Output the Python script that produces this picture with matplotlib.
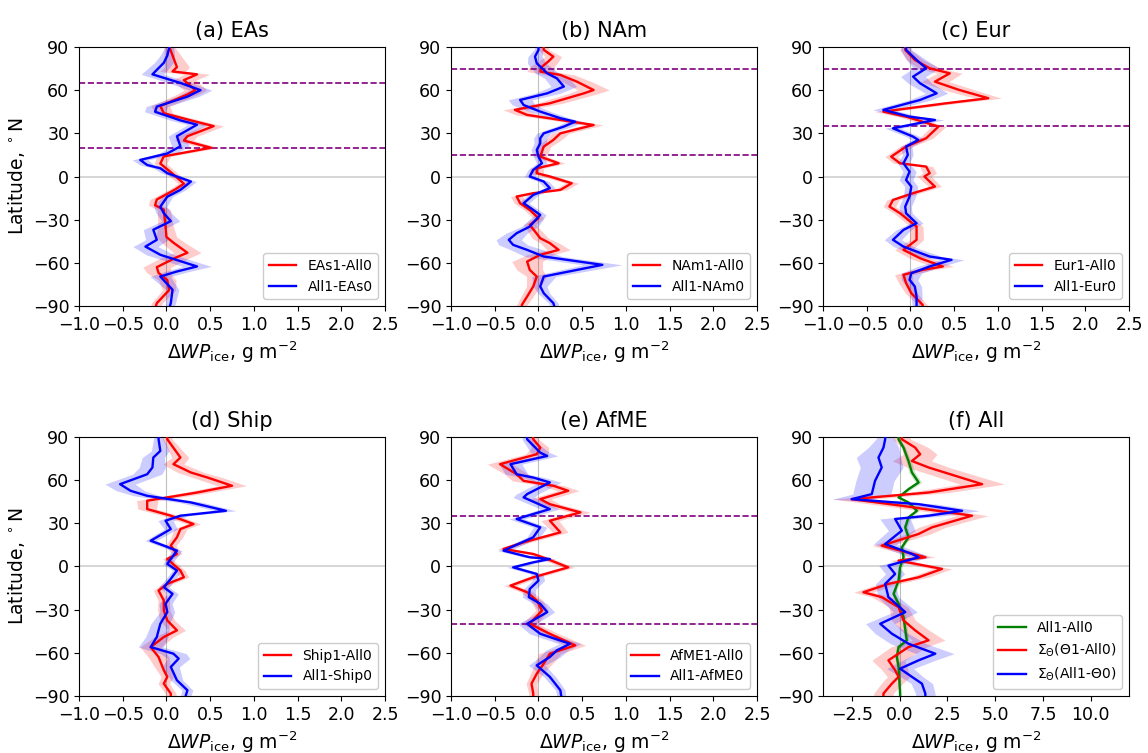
import numpy as np
import matplotlib
matplotlib.use("Agg")
import matplotlib.pyplot as plt

# ---------------- data ----------------
band_lat = [90, 75, 60, 45, 30, 15, 0, -15, -30, -45, -60, -75, -90]

# (a) EAs
a_red_lat = [90, 89, 76, 73, 71, 67, 60, 57, 49, 44, 39, 35, 28, 25, 20, 14, 9, 3, -5, -9, -16, -20, -23, -35, -42, -46, -53, -56, -63, -67, -72, -79, -88, -90]
a_red_val = [0.03, 0.04, 0.12, 0.07, 0.35, 0.20, 0.33, 0.24, -0.07, -0.03, 0.28, 0.54, 0.24, 0.20, 0.51, -0.03, -0.07, 0.05, 0.20, 0.10, -0.11, -0.13, -0.03, -0.01, 0.00, 0.08, 0.24, 0.12, -0.11, -0.09, 0.01, 0.03, -0.11, -0.12]
a_blue_lat = [90, 89, 84, 79, 71, 65, 60, 55.5, 48.6, 45, 39, 36, 28, 21, 16, 11.5, 8, 5.7, 2.3, -3.5, -9.3, -14, -21, -25.5, -31, -37, -44, -48.7, -54.4, -62.5, -66, -69.5, -78.7, -88, -90]
a_blue_val = [0.03, 0.03, 0.01, -0.03, -0.16, 0.16, 0.39, 0.24, -0.11, -0.13, 0.16, 0.35, 0.12, 0.16, 0.01, -0.30, -0.22, -0.07, 0.01, 0.28, 0.16, 0.01, -0.07, -0.03, 0.05, -0.15, -0.11, -0.24, -0.07, 0.35, 0.12, -0.07, 0.07, 0.05, 0.04]
a_red_band = [0.06, 0.15, 0.13, 0.10, 0.12, 0.08, 0.06, 0.08, 0.07, 0.13, 0.18, 0.08, 0.06]
a_blue_band = [0.05, 0.13, 0.13, 0.12, 0.10, 0.10, 0.06, 0.06, 0.10, 0.13, 0.18, 0.08, 0.05]

# (b) NAm
b_red_lat = [90, 88, 83.3, 79.8, 76.3, 72.9, 70.6, 65.9, 60.1, 57.8, 50.9, 46.3, 42.8, 39.3, 35.8, 30, 25.4, 20.8, 13.8, 9.2, 5.7, 2.3, 0, -4.7, -9.3, -11.6, -13.9, -18.6, -23.2, -29, -33.6, -38.2, -42.9, -46.3, -51, -54.4, -59.1, -64.9, -69.5, -76.4, -83.4, -89.2, -90]
b_red_val = [0.06, 0.06, 0.17, 0.11, 0.04, 0.02, 0.25, 0.44, 0.63, 0.52, 0.13, -0.27, -0.13, 0.25, 0.63, 0.25, 0.17, 0.06, 0.02, 0.23, -0.02, -0.02, 0.13, 0.38, 0.25, -0.06, -0.25, -0.21, -0.10, 0.00, -0.10, -0.04, 0.02, 0.13, 0.23, 0.02, -0.13, -0.10, -0.02, -0.06, -0.13, -0.19, -0.19]
b_blue_lat = [90, 88, 83.3, 78.7, 71.7, 68.2, 62.5, 57.8, 53.2, 49.7, 45.1, 40.5, 38.1, 34.7, 30, 26.6, 23.1, 18.5, 13.8, 9.2, 4.6, 0, -3.5, -8.1, -12.8, -18.6, -23.2, -26.7, -34.8, -39.4, -44, -47.5, -51, -55.6, -61.4, -64.9, -69.5, -76.4, -81.1, -88, -90]
b_blue_val = [0.0, 0.0, -0.04, -0.02, 0.10, 0.21, 0.29, 0.10, -0.21, -0.17, 0.02, 0.25, 0.42, 0.29, 0.06, 0.02, 0.02, -0.02, 0.00, 0.04, -0.06, -0.10, 0.06, 0.13, -0.06, -0.17, -0.06, 0.02, -0.10, -0.25, -0.34, -0.29, -0.13, 0.06, 0.73, 0.44, 0.06, 0.02, 0.06, 0.17, 0.18]
b_red_band = [0.05, 0.15, 0.18, 0.13, 0.10, 0.07, 0.08, 0.07, 0.06, 0.10, 0.18, 0.08, 0.06]
b_blue_band = [0.04, 0.13, 0.15, 0.12, 0.08, 0.06, 0.06, 0.06, 0.07, 0.15, 0.24, 0.08, 0.05]

# (c) Eur
c_red_lat = [90, 88, 81, 75.2, 71.7, 65.9, 60.1, 54.4, 50.9, 45.1, 41.6, 34.7, 26.6, 20.8, 13.8, 9.2, 6.9, 2.3, 0, -7, -11.6, -16.3, -20.9, -25.5, -34.8, -44, -51, -56.8, -62.5, -64.9, -68.3, -74.1, -81.1, -89.2, -90]
c_red_val = [-0.06, -0.06, 0.05, 0.22, 0.45, 0.28, 0.56, 0.89, 0.41, -0.31, -0.05, 0.32, 0.18, -0.05, -0.22, -0.12, 0.18, 0.22, 0.16, 0.28, 0.03, -0.20, -0.24, -0.12, 0.07, 0.07, -0.08, 0.11, 0.37, 0.14, -0.08, -0.05, 0.01, 0.14, 0.14]
c_blue_lat = [90, 88, 81, 75.2, 69.4, 64.8, 57.8, 53.2, 46.3, 41.6, 39.3, 33.5, 27.7, 25.4, 20.8, 15, 9.2, 3.4, -2.4, -7, -13.9, -20.9, -25.5, -32.5, -37.1, -44, -48.7, -55.6, -57.9, -62.5, -67.2, -71.8, -76.4, -83.4, -89.2, -90]
c_blue_val = [-0.05, -0.05, 0.07, 0.18, 0.03, 0.11, 0.30, 0.11, -0.31, -0.01, 0.28, -0.20, 0.03, 0.09, -0.05, -0.03, -0.08, -0.01, -0.05, 0.01, -0.01, -0.06, -0.05, 0.07, -0.08, -0.20, -0.08, 0.22, 0.47, 0.22, 0.01, -0.01, 0.05, 0.07, 0.07, 0.07]
c_red_band = [0.05, 0.13, 0.18, 0.10, 0.08, 0.07, 0.08, 0.07, 0.07, 0.08, 0.13, 0.08, 0.05]
c_blue_band = [0.05, 0.15, 0.13, 0.12, 0.08, 0.06, 0.08, 0.07, 0.07, 0.10, 0.15, 0.08, 0.05]

# (d) Ship
d_red_lat = [90, 88.4, 75.7, 71.1, 68.8, 65.3, 61.8, 56.1, 51.4, 45.7, 39.9, 35.3, 29.5, 26, 20.3, 14.5, 8.7, 5.2, -2.8, -7.5, -12.1, -16.7, -23.6, -30.6, -37.5, -44.4, -49, -56, -62.9, -72.1, -76.7, -81.4, -88.3, -90]
d_red_val = [0.01, 0.01, 0.16, 0.08, 0.16, 0.28, 0.47, 0.75, 0.35, -0.22, -0.22, 0.05, 0.31, 0.16, 0.12, 0.05, 0.12, 0.01, 0.16, 0.20, 0.01, -0.09, -0.03, -0.03, 0.01, 0.12, -0.03, -0.18, -0.09, -0.03, 0.01, -0.03, 0.05, 0.05]
d_blue_lat = [90, 88.4, 80.3, 75.7, 68.8, 64.1, 57.2, 52.6, 49.1, 44.5, 38.7, 35.3, 31.8, 26, 17.9, 14.5, 11, 1.8, -2.8, -8.6, -14.4, -19, -25.9, -31.7, -39.8, -49, -56, -60.6, -64, -69.8, -79.1, -86, -90]
d_blue_val = [-0.09, -0.09, -0.07, -0.15, -0.16, -0.22, -0.53, -0.41, -0.22, 0.28, 0.68, 0.16, -0.01, 0.05, -0.18, -0.03, 0.12, 0.01, 0.12, 0.05, -0.03, 0.07, -0.01, 0.01, -0.07, -0.11, -0.18, 0.08, 0.14, 0.05, 0.12, 0.24, 0.22]
d_red_band = [0.05, 0.10, 0.18, 0.12, 0.08, 0.06, 0.05, 0.06, 0.07, 0.10, 0.13, 0.07, 0.06]
d_blue_band = [0.05, 0.13, 0.18, 0.14, 0.08, 0.06, 0.05, 0.06, 0.08, 0.12, 0.15, 0.07, 0.06]

# (e) AfME
e_red_lat = [90, 88.4, 82.6, 78, 71.1, 64.1, 59.5, 56.1, 52.6, 46.8, 43.3, 37.6, 31.8, 23.7, 16.8, 12.2, 8.7, 5.2, -0.6, -7.5, -13.3, -17.9, -23.6, -30.6, -39.8, -46.8, -54.8, -60.6, -67.5, -74.5, -81.4, -88.3, -90]
e_red_val = [-0.06, -0.06, 0.02, -0.02, -0.44, -0.25, -0.17, 0.17, 0.34, 0.02, 0.13, 0.48, 0.13, 0.25, -0.17, -0.40, -0.06, 0.10, 0.34, -0.06, -0.32, -0.13, -0.02, 0.04, -0.10, 0.13, 0.42, 0.13, 0.06, -0.02, -0.08, -0.06, -0.06]
e_blue_lat = [90, 88.4, 79.1, 76.8, 71.1, 64.1, 61.8, 58.4, 50.3, 48, 39.9, 33, 27.2, 20.3, 11, 6.4, 5.2, 2.9, -0.6, -5.2, -9.8, -15.6, -21.3, -25.9, -31.7, -39.8, -46.8, -53.7, -58.3, -62.9, -68.7, -76.7, -86, -90]
e_blue_val = [-0.13, -0.13, 0.02, 0.10, -0.32, -0.25, -0.06, 0.13, -0.13, -0.17, 0.13, -0.25, 0.02, -0.06, -0.40, -0.10, 0.13, -0.06, -0.29, -0.02, 0.00, -0.10, -0.11, 0.02, 0.10, -0.13, 0.02, 0.36, 0.21, 0.13, -0.02, 0.13, 0.25, 0.26]
e_red_band = [0.05, 0.15, 0.13, 0.12, 0.10, 0.07, 0.07, 0.07, 0.07, 0.10, 0.13, 0.07, 0.05]
e_blue_band = [0.05, 0.13, 0.13, 0.12, 0.08, 0.07, 0.07, 0.07, 0.08, 0.12, 0.13, 0.07, 0.05]

# (f) All
f_green_lat = [90, 88.4, 82.6, 73.3, 65.3, 58.4, 53.7, 48, 44.5, 38.7, 34.1, 27.2, 20.3, 13.3, 6.4, -0.6, -9.8, -19, -25.9, -35.2, -51.3, -56, -62.9, -69.8, -88.3, -90]
f_green_val = [-0.05, -0.05, 0.21, 0.47, 0.65, 1.00, 0.47, -0.05, 0.47, 0.91, 0.47, 0.30, 0.47, 0.12, 0.21, 0.03, -0.05, -0.31, -0.05, 0.21, 0.38, -0.05, -0.14, -0.05, 0.03, 0.03]
f_red_lat = [90, 88.4, 82.6, 78, 73.3, 68.8, 57.2, 51.4, 46.8, 42.2, 35.3, 27.2, 22.6, 14.5, 6.4, 4.1, -1.7, -7.5, -12.1, -17.9, -21.3, -28.3, -37.5, -44.4, -51.3, -56, -65.2, -72.1, -76.7, -81.4, -88.3, -90]
f_red_val = [0.12, 0.12, 0.82, 1.08, 0.65, 1.52, 4.32, 1.52, -2.50, 0.12, 3.79, 1.70, 1.00, -0.93, 1.35, -0.05, 2.22, 1.00, -0.58, -1.89, -0.93, -0.05, 0.21, 0.82, 1.52, 0.47, -0.58, -0.23, -0.05, -0.40, -0.84, -0.84]
f_blue_lat = [90, 88.4, 82.6, 75.7, 68.8, 59.5, 50.3, 46.8, 43.3, 38.7, 35.3, 33, 24.9, 15.6, 8.7, 6.4, 0.6, -5.2, -12.1, -21.3, -31.7, -39.8, -46.7, -53.7, -60.6, -65.2, -71, -76.7, -81.4, -88.3, -90]
f_blue_val = [-0.75, -0.75, -0.84, -1.10, -0.93, -1.28, -1.45, -2.50, 1.00, 3.27, 1.52, -0.23, 0.12, -0.75, 0.65, 1.00, -0.58, -0.23, -0.75, -0.58, 0.30, -1.01, -0.40, 0.47, 1.87, 1.00, 0.03, 0.65, 1.17, 1.35, 1.35]
f_green_band = [0.10, 0.12, 0.18, 0.12, 0.12, 0.10, 0.10, 0.10, 0.10, 0.12, 0.12, 0.06, 0.06]
f_red_band = [0.40, 1.00, 1.20, 1.00, 0.75, 0.50, 0.50, 0.50, 0.50, 0.75, 1.00, 0.60, 0.50]
f_blue_band = [0.40, 1.20, 1.00, 1.00, 0.75, 0.60, 0.50, 0.50, 0.60, 0.85, 1.00, 0.60, 0.50]

titles = ["(a) EAs", "(b) NAm", "(c) Eur", "(d) Ship", "(e) AfME", "(f) All"]
region_bounds = [[65, 20], [75, 15], [75, 35], [], [35, -40], []]
legend_labels = [
    ["EAs1-All0", "All1-EAs0"],
    ["NAm1-All0", "All1-NAm0"],
    ["Eur1-All0", "All1-Eur0"],
    ["Ship1-All0", "All1-Ship0"],
    ["AfME1-All0", "All1-AfME0"],
    ["All1-All0", r"$\Sigma_\Theta$($\Theta$1-All0)", r"$\Sigma_\Theta$(All1-$\Theta$0)"],
]

panels = [
    [(a_red_lat, a_red_val, a_red_band, "red"), (a_blue_lat, a_blue_val, a_blue_band, "blue")],
    [(b_red_lat, b_red_val, b_red_band, "red"), (b_blue_lat, b_blue_val, b_blue_band, "blue")],
    [(c_red_lat, c_red_val, c_red_band, "red"), (c_blue_lat, c_blue_val, c_blue_band, "blue")],
    [(d_red_lat, d_red_val, d_red_band, "red"), (d_blue_lat, d_blue_val, d_blue_band, "blue")],
    [(e_red_lat, e_red_val, e_red_band, "red"), (e_blue_lat, e_blue_val, e_blue_band, "blue")],
    [(f_green_lat, f_green_val, f_green_band, "green"), (f_red_lat, f_red_val, f_red_band, "red"),
     (f_blue_lat, f_blue_val, f_blue_band, "blue")],
]

# ---------------- figure ----------------
fig = plt.figure(figsize=(11.48, 7.53), dpi=100)
lefts = [0.0688, 0.3929, 0.7169]
bottoms = [0.5936, 0.0757]
w, h = 0.2666, 0.344

for i in range(6):
    r, c = divmod(i, 3)
    ax = fig.add_axes([lefts[c], bottoms[r], w, h])
    ax.axhline(0, color="lightgray", lw=1.3, zorder=1)
    ax.axvline(0, color="gray", lw=0.8, alpha=0.5, zorder=1)
    for yb in region_bounds[i]:
        ax.axhline(yb, color="purple", ls="--", lw=1.2, zorder=2)
    handles = []
    for (lat, val, band, col), lab in zip(panels[i], legend_labels[i]):
        lat = np.asarray(lat, float)
        val = np.asarray(val, float)
        bw = np.interp(lat, band_lat[::-1], band[::-1])
        ax.fill_betweenx(lat, val - bw, val + bw, color=col, alpha=0.2, lw=0, zorder=2)
        ln, = ax.plot(val, lat, color=col, lw=1.7, label=lab, zorder=3)
        handles.append(ln)
    ax.set_ylim(-90, 90)
    ax.set_yticks(np.arange(-90, 91, 30))
    if i == 5:
        ax.set_xlim(-4, 12)
        ax.set_xticks([-2.5, 0, 2.5, 5, 7.5, 10])
    else:
        ax.set_xlim(-1, 2.5)
        ax.set_xticks(np.arange(-1, 2.51, 0.5))
    ax.tick_params(labelsize=12.5)
    ax.set_title(titles[i], fontsize=15, pad=7)
    ax.set_xlabel(r"$\Delta WP_{\rm ice}$, g m$^{-2}$", fontsize=13.5)
    if c == 0:
        ax.set_ylabel(r"Latitude, $^\circ$N", fontsize=13.5)
    ax.legend(handles=handles, loc="lower right", fontsize=10, framealpha=1.0)

fig.savefig("out.png", dpi=100)
